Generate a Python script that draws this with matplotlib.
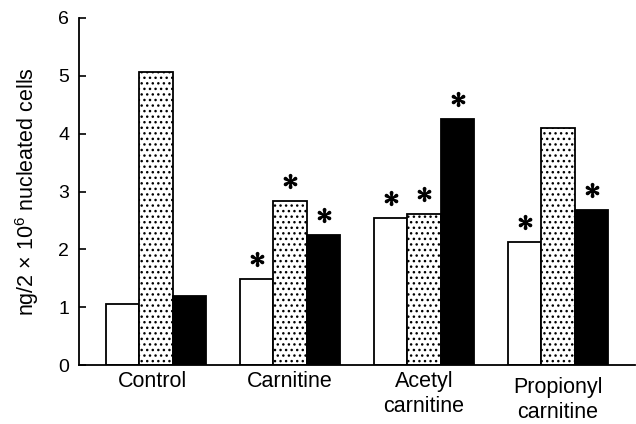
import matplotlib
matplotlib.use("Agg")
import matplotlib.pyplot as plt
import matplotlib.transforms as mtransforms
import numpy as np

plt.rcParams['font.family'] = ['Liberation Sans', 'DejaVu Sans']
plt.rcParams['mathtext.fontset'] = 'custom'
plt.rcParams['mathtext.rm'] = 'Liberation Sans'
plt.rcParams['mathtext.default'] = 'regular'
plt.rcParams['hatch.linewidth'] = 1.0

categories = ["Control", "Carnitine", "Acetyl\ncarnitine", "Propionyl\ncarnitine"]
series_white = [1.05, 1.48, 2.54, 2.13]
series_dotted = [5.06, 2.84, 2.61, 4.10]
series_black = [1.19, 2.25, 4.25, 2.68]
sig_white = [False, True, True, True]
sig_dotted = [False, True, True, False]
sig_black = [False, True, True, True]
yticks = [0, 1, 2, 3, 4, 5, 6]
ylabel = "ng/2 \u00d7 10$^{6}$ nucleated cells"

fig = plt.figure(figsize=(6.36, 4.24), dpi=100)
ax = fig.add_axes([79/636, 59/424, (635-79)/636, (365-18)/424])

x = np.arange(len(categories))
w = 0.25
styles = [
    dict(facecolor='white', edgecolor='black', hatch=None),
    dict(facecolor='white', edgecolor='black', hatch='...'),
    dict(facecolor='black', edgecolor='black', hatch=None),
]
allvals = [series_white, series_dotted, series_black]
allsig = [sig_white, sig_dotted, sig_black]
star_tr = ax.transData + mtransforms.ScaledTranslation(0, 14.5/72, fig.dpi_scale_trans)
for i, (vals, sig, st) in enumerate(zip(allvals, allsig, styles)):
    xs = x + (i - 1) * w
    ax.bar(xs, vals, width=w, linewidth=1.3, zorder=2, **st)
    for xx, v, s in zip(xs, vals, sig):
        if s:
            ax.plot([xx], [v], marker=r'$\ast$', markersize=10, color='black',
                    markeredgewidth=1.0, linestyle='none', zorder=3,
                    transform=star_tr, clip_on=False)

ax.set_xlim(-0.575, 3.574)
ax.set_ylim(0, 6)
ax.set_yticks(yticks)
ax.set_yticklabels([str(t) for t in yticks], fontsize=14)
ax.set_xticks([])
ax.tick_params(axis='y', direction='in', length=5, width=1.2, pad=7)
for side in ['top', 'right']:
    ax.spines[side].set_visible(False)
ax.spines['left'].set_linewidth(1.3)
ax.spines['bottom'].set_linewidth(1.3)

# category labels
first_off = [16, 16, 16, 20]
second_off = [None, None, 34, 38.5]
xlabel_shift = [-0.03, 0.0, 0.0, 0.0]
for i, lab in enumerate(categories):
    lines = lab.split("\n")
    offs = [first_off[i], second_off[i]]
    for j, ln in enumerate(lines):
        ax.annotate(ln, xy=(x[i] + xlabel_shift[i], 0), xycoords=('data', 'axes fraction'),
                    xytext=(0, -offs[j]), textcoords='offset points',
                    ha='center', va='baseline', fontsize=15.5, annotation_clip=False)

ax.set_ylabel(ylabel, fontsize=15.5)
ax.yaxis.set_label_coords(-0.094, 0.5)
ax.yaxis.label.set_va('center')

fig.savefig("out.png", dpi=100)
